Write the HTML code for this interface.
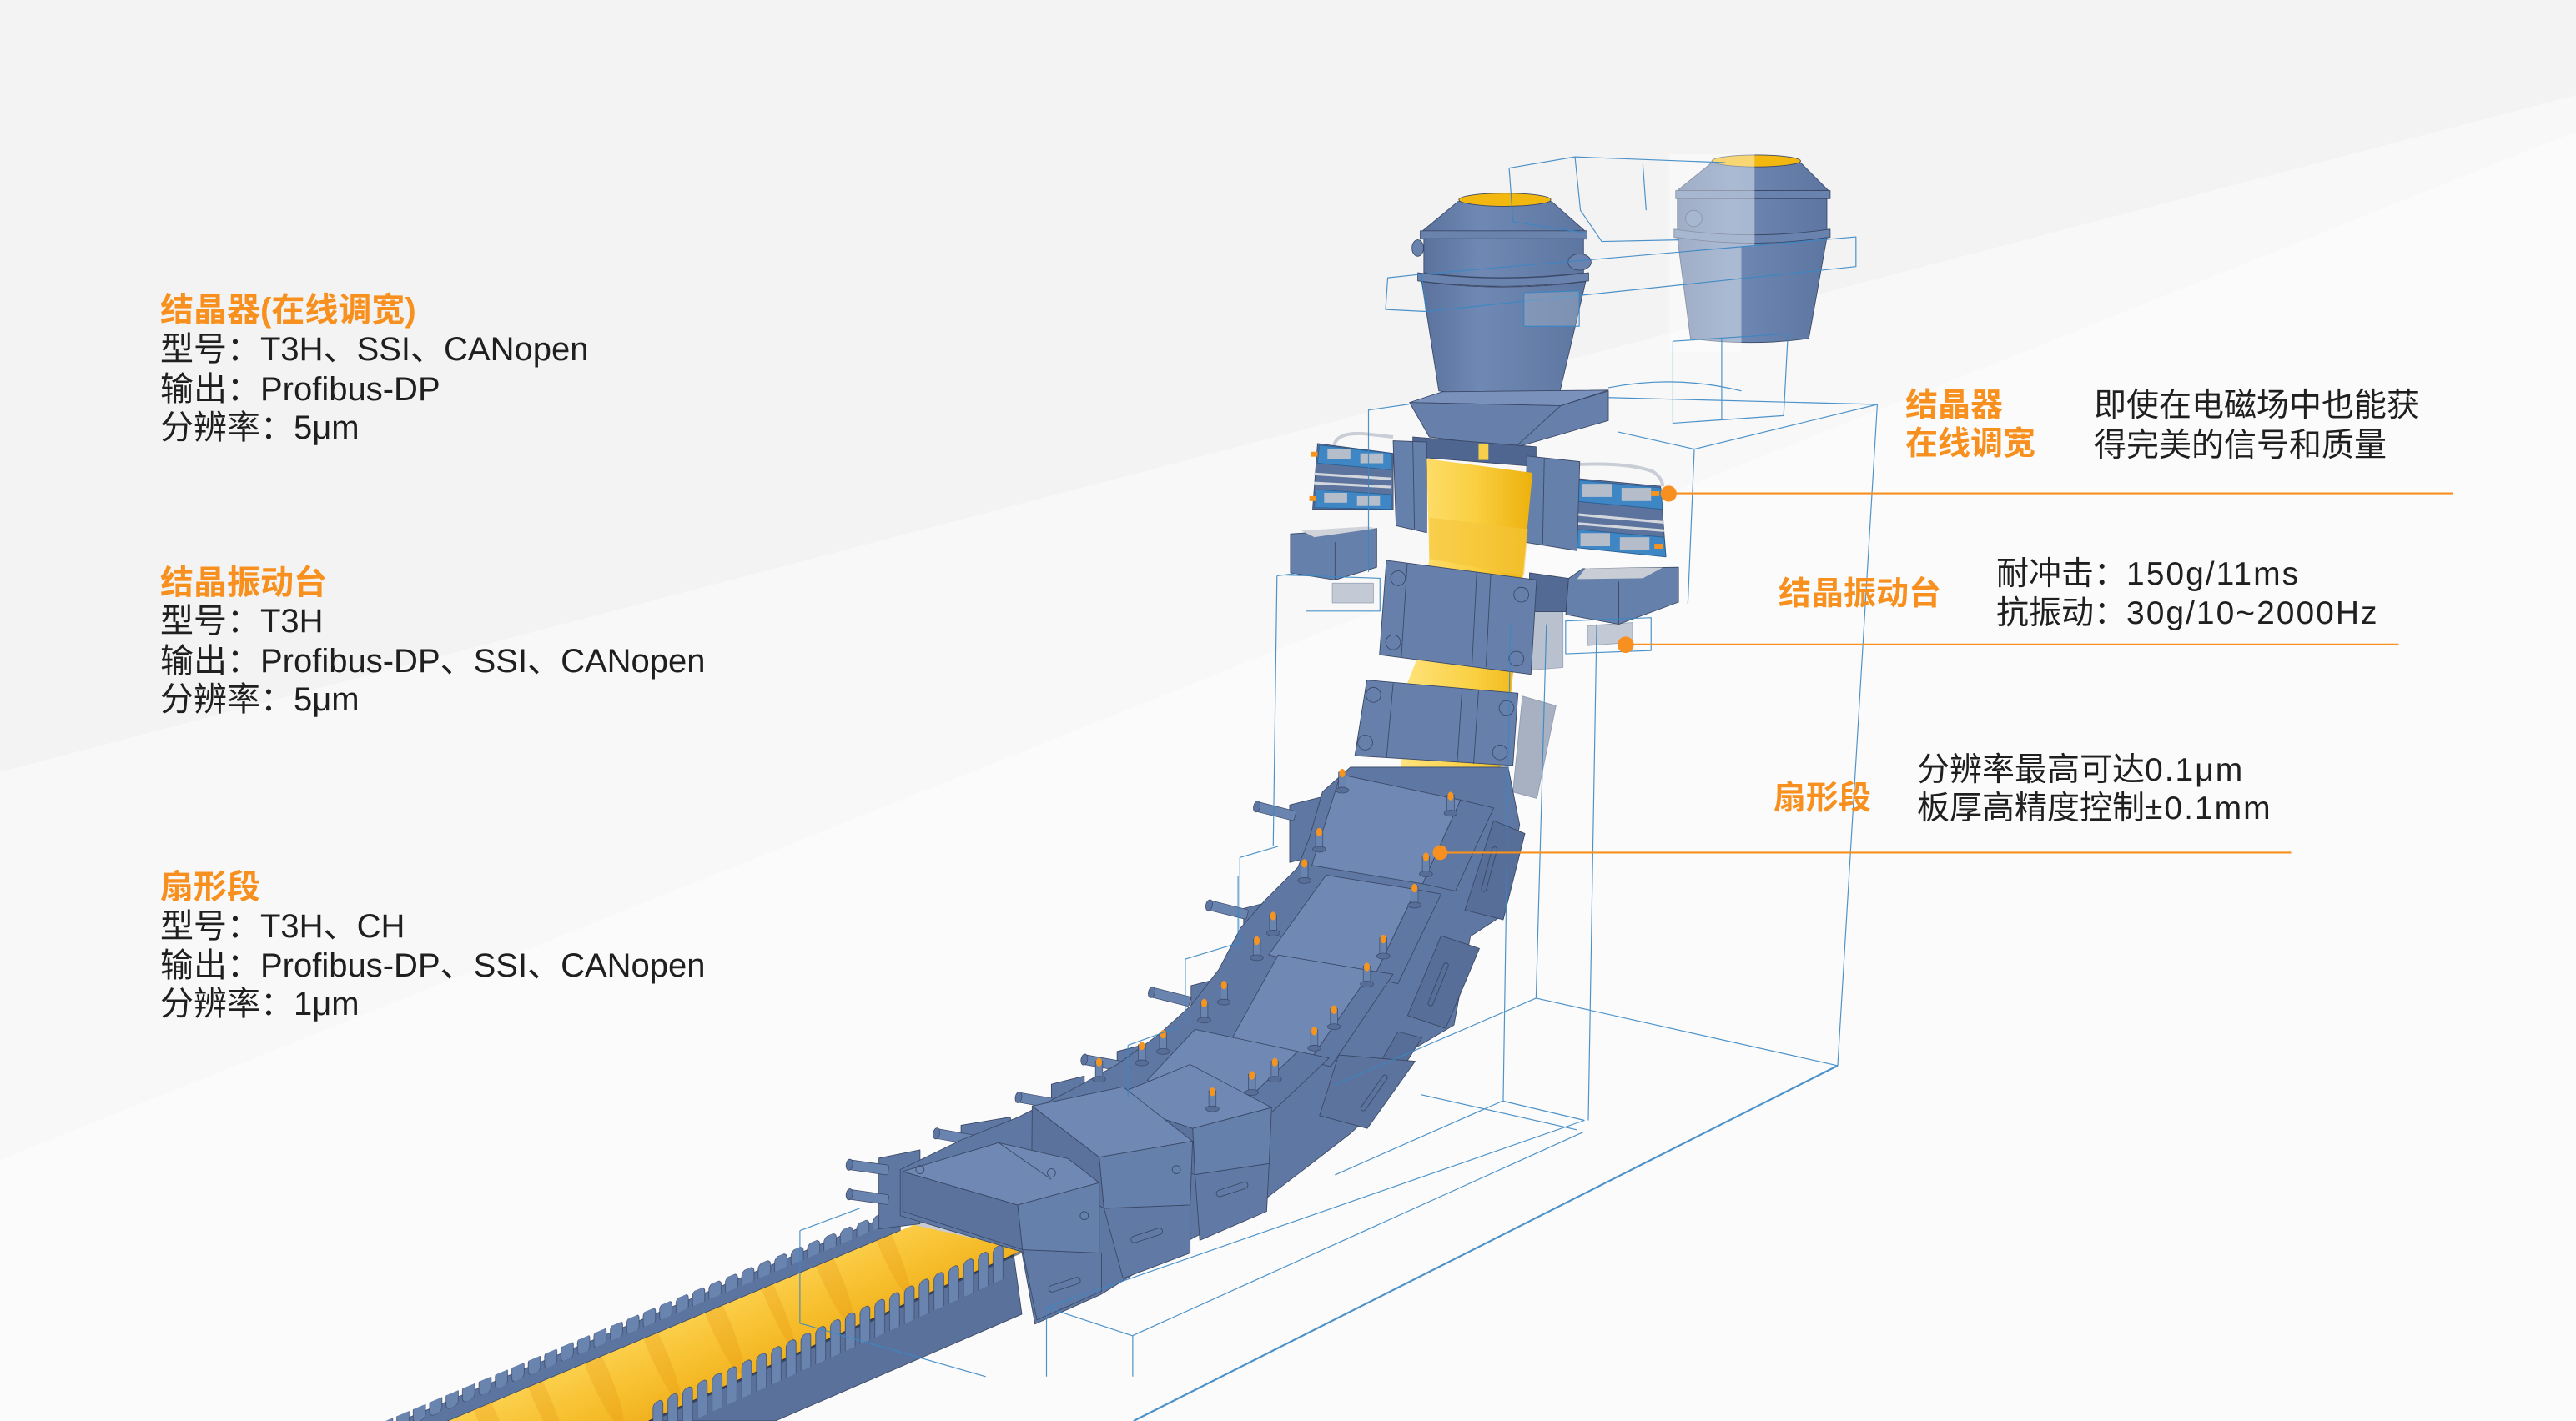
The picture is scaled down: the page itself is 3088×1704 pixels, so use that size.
<!DOCTYPE html>
<html><head><meta charset="utf-8">
<style>
html,body{margin:0;padding:0;}
body{width:3088px;height:1704px;position:relative;overflow:hidden;background:#fbfbfb;font-family:"Liberation Sans","Noto Sans CJK SC",sans-serif;}
.t{position:absolute;white-space:nowrap;font-size:39px;line-height:48px;height:48px;color:#1f1f1f;}
.l{font-size:40px;}
.o{color:#F7901E;font-weight:bold;}
.b{letter-spacing:2px;}
</style></head><body>
<svg style="position:absolute;left:0;top:0" width="3088" height="1704" viewBox="0 0 1568 865" preserveAspectRatio="none">
<defs>
<linearGradient id="yel" x1="0" y1="0" x2="1" y2="0"><stop offset="0" stop-color="#FFE47E"/><stop offset=".55" stop-color="#FAD043"/><stop offset="1" stop-color="#EDB10C"/></linearGradient>
<linearGradient id="slab" gradientUnits="userSpaceOnUse" x1="400" y1="790" x2="440" y2="880"><stop offset="0" stop-color="#FFD95E"/><stop offset=".5" stop-color="#F6BD2A"/><stop offset="1" stop-color="#E59A0E"/></linearGradient>
<linearGradient id="lad" x1="0" y1="0" x2="1" y2="0"><stop offset="0" stop-color="#5a729d"/><stop offset=".35" stop-color="#6f89b4"/><stop offset="1" stop-color="#5d76a1"/></linearGradient>
<pattern id="tl" patternUnits="userSpaceOnUse" width="9" height="40" y="1035.3" patternTransform="skewY(-24.5)"><rect x="1.5" y="0" width="6" height="24" rx="3" fill="#6A84B0" stroke="#3e4c6b" stroke-width=".4"/></pattern>
<pattern id="tu" patternUnits="userSpaceOnUse" width="10" height="40" y="958.8" patternTransform="skewY(-22.3)"><rect x="1.5" y="0" width="7.5" height="11" rx="3" fill="#6A84B0" stroke="#3e4c6b" stroke-width=".4"/></pattern>
<clipPath id="slabc"><polygon points="558,745 625,760 395,865 265,865"/></clipPath>
<g id="post"><rect x="-2.2" y="0" width="4.4" height="11" fill="#6A84B0" stroke="#3b4866" stroke-width=".35"/><ellipse cx="0" cy="11" rx="4" ry="1.8" fill="#566e98" stroke="#3b4866" stroke-width=".35"/><ellipse cx="0" cy="0.6" rx="1.8" ry="2.6" fill="#F7941D"/></g>
<g id="cyl"><rect x="0" y="-3" width="24" height="6" rx="1" fill="#6A84B0" stroke="#3b4866" stroke-width=".35"/><ellipse cx="0" cy="0" rx="2" ry="3.4" fill="#5d76a1" stroke="#3b4866" stroke-width=".35"/></g>
</defs>

<!-- background -->
<rect width="1568" height="865" fill="#fbfbfb"/>
<polygon points="0,0 1568,0 1568,58 0,470" fill="#f3f3f3"/>
<polygon points="0,470 1568,58 1568,80 0,706" fill="#f8f8f8"/>

<g stroke="#3b4866" stroke-width=".45" stroke-linejoin="round">
<!-- right ladle -->
<path d="M1042,99 L1096,99 L1113,116 L1021,116 Z" fill="url(#lad)"/>
<path d="M1020,116 L1114,116 L1114,121 L1020,121 Z" fill="#6983AE"/>
<path d="M1021,121 L1112,121 L1112,140 Q1066,147 1021,140 Z" fill="url(#lad)"/>
<path d="M1019,139.5 Q1066,146.5 1114,139.5 L1114,144.5 Q1066,151.5 1019,144.5 Z" fill="#6983AE"/>
<path d="M1021,144.5 Q1066,151.5 1112,144.5 L1101,206 Q1065,211 1029,206 Z" fill="url(#lad)"/>
<ellipse cx="1069" cy="98" rx="27" ry="3.6" fill="#F3B80F"/>
<ellipse cx="1031" cy="133" rx="5" ry="5" fill="#6983AE"/>
</g>
<polygon points="1016,94 1068,94 1068,150 1060,150 1060,214 1016,214" fill="#fff" opacity=".42"/>

<g stroke="#3b4866" stroke-width=".45" stroke-linejoin="round">
<!-- left ladle -->
<path d="M887.5,122.7 L944.5,122.7 L965.2,141 L865.4,141 Z" fill="url(#lad)"/>
<rect x="864.5" y="140.5" width="101.5" height="5" fill="#6983AE"/>
<path d="M866.7,145.3 L963.9,145.3 L963.9,166 Q915,172 866.7,166 Z" fill="url(#lad)"/>
<path d="M863,166 Q915,172.5 967,166 L967,171 Q915,177.5 863,171 Z" fill="#6983AE"/>
<path d="M865.4,171.4 Q915,178 965.2,171.4 L949.6,238 Q912,243 875.8,238 Z" fill="url(#lad)"/>
<ellipse cx="916" cy="121.6" rx="28" ry="4" fill="#F3B80F"/>
<ellipse cx="863" cy="151" rx="3.5" ry="5" fill="#6983AE"/>
<ellipse cx="961.5" cy="159.5" rx="7" ry="5" fill="#6983AE"/>
<!-- tundish base -->
<polygon points="858,245 878,238.5 979,237.5 950,247" fill="#7a92bb"/>
<polygon points="858,245 950,247 979,238 979,256 922,272.5 870,266" fill="#6680ab"/>
<line x1="950" y1="247" x2="922" y2="272.5"/>

<!-- mold back plate -->
<polygon points="860,266 935,272 935,284 860,278" fill="#4f6690"/>
<!-- left actuators -->
<path d="M812,271 Q814,263 830,264 L848,266" fill="none" stroke="#c9ced6" stroke-width="2"/>
<polygon points="802,270 848,276 848,310 799,310" fill="#5b739d"/>
<polygon points="803,271 847,276 847,286 802,282" fill="#3e86c4" stroke="#2b5f93"/>
<rect x="808" y="273.5" width="14" height="6" fill="#b4bdc9" stroke="none"/>
<rect x="828" y="276" width="14" height="6" fill="#b4bdc9" stroke="none"/>
<line x1="800" y1="288.5" x2="847" y2="291.5" stroke="#d3d7dd" stroke-width="1.6"/>
<line x1="800" y1="294" x2="847" y2="296.5" stroke="#d3d7dd" stroke-width="1.6"/>
<polygon points="801,298 847,301 847,310 800,309" fill="#3e86c4" stroke="#2b5f93"/>
<rect x="806" y="300" width="14" height="6" fill="#b4bdc9" stroke="none"/>
<rect x="826" y="302" width="14" height="6" fill="#b4bdc9" stroke="none"/>
<rect x="798" y="275" width="4" height="3" fill="#F7941D" stroke="none"/>
<rect x="797" y="302" width="4" height="3" fill="#F7941D" stroke="none"/>
<!-- right actuators -->
<path d="M955,283 Q990,281 1006,287 Q1012,291 1012,296" fill="none" stroke="#c9ced6" stroke-width="2"/>
<polygon points="956.5,291 1010.7,296 1014,338.5 954.8,332" fill="#5b739d"/>
<polygon points="958,292 1011,297 1012,310 958,305" fill="#3e86c4" stroke="#2b5f93"/>
<rect x="963" y="294.5" width="18" height="8" fill="#b4bdc9" stroke="none"/>
<rect x="987" y="297" width="18" height="8" fill="#b4bdc9" stroke="none"/>
<line x1="958" y1="313" x2="1013" y2="318" stroke="#d3d7dd" stroke-width="1.6"/>
<line x1="958" y1="318.5" x2="1013" y2="323" stroke="#d3d7dd" stroke-width="1.6"/>
<polygon points="957,322 1013,327 1014,339 956,333" fill="#3e86c4" stroke="#2b5f93"/>
<rect x="962" y="324.5" width="18" height="8" fill="#b4bdc9" stroke="none"/>
<rect x="986" y="327" width="18" height="8" fill="#b4bdc9" stroke="none"/>
<rect x="1005" y="299" width="5" height="3" fill="#F7941D" stroke="none"/>
<rect x="1007" y="331" width="5" height="3" fill="#F7941D" stroke="none"/>
<!-- frames -->
<polygon points="848,268.3 868.4,269.1 868.4,324.2 849.8,320" fill="#6580ab"/>
<line x1="860" y1="269" x2="861" y2="322"/>
<polygon points="929.4,277.6 961.6,281 959.9,335.2 928.5,330.1" fill="#6580ab"/>
<line x1="940" y1="279" x2="939" y2="332"/>
<!-- left/right small boxes -->
<polygon points="811,355 836,355 836,367 811,367" fill="#c3cad5" stroke="#9aa6b8"/>
<polygon points="785.5,325 838,321.6 838,345.3 812.6,353 785.5,348.7" fill="#6580ab"/>
<polygon points="792,323 832,320.5 838,321.6 800,327" fill="#d0d4da" stroke="none"/>
<line x1="812.6" y1="330" x2="812.6" y2="353"/>
<polygon points="927.7,372.4 951.4,372.4 951.4,406.3 931,408" fill="#b9c1ce" stroke="#9aa6b8"/>
<polygon points="966.6,380.9 993.7,379 993.7,391 966.6,393" fill="#c3cad5" stroke="#9aa6b8"/>
<polygon points="931,348.7 954.8,352.1 953.1,372.4 931,372.4" fill="#526a94"/>
<polygon points="954.8,352.1 963.3,346.2 1021.7,345.3 1021.7,366.5 985.3,380 953.1,374.1" fill="#6580ab"/>
<polygon points="965,346 1012,345.5 1000,352 960,352.5" fill="#c9ced6" stroke="none"/>
<line x1="985.3" y1="354" x2="985.3" y2="380"/>
<!-- yellow strand -->
<polygon points="868.4,279.3 932.8,287.8 927,350 920,420 912,478 900,495 852,490 855,420 863,400 870,340" fill="url(#yel)" stroke="none"/>
<polygon points="870,315 930,322 927.7,350.4 870,340.2" fill="#F5C43A" stroke="none" opacity=".6"/>
<rect x="900" y="270" width="6" height="10" fill="#F7CF4A" stroke="none"/>
<!-- mold lower box -->
<polygon points="843.9,341.1 935.3,353 931.9,410.5 839.7,398.6" fill="#6680ab"/>
<line x1="856.6" y1="343" x2="853" y2="400"/>
<line x1="898.9" y1="348" x2="896" y2="405"/>
<line x1="907.4" y1="349.5" x2="904.5" y2="406"/>
<g fill="none"><circle cx="851" cy="352" r="4.5"/><circle cx="926" cy="362" r="4.5"/><circle cx="848" cy="391" r="4.5"/><circle cx="923" cy="401" r="4.5"/></g>
<!-- seg0 -->
<polygon points="832,414 924,422 920.9,466 824.7,460" fill="#6680ab"/>
<line x1="848" y1="416" x2="844" y2="461"/>
<line x1="890" y1="419" x2="887" y2="464"/>
<line x1="900" y1="420" x2="897" y2="465"/>
<g fill="none"><circle cx="836" cy="423" r="4.5"/><circle cx="917" cy="431" r="4.5"/><circle cx="831" cy="452" r="4.5"/><circle cx="913" cy="458" r="4.5"/></g>
<polygon points="926.7,423.8 947.1,429.6 935.5,486 920.9,482.1" fill="#a8b1c2" stroke="#8f9bb0"/>
</g>

<!-- slab and combs -->
<polygon points="558,745 625,760 395,865 265,865" fill="url(#slab)"/>
<g clip-path="url(#slabc)" fill="#E08A0A" opacity=".22">
<ellipse cx="540" cy="758" rx="5" ry="34" transform="rotate(-23.5 540 758)"/>
<ellipse cx="505" cy="775" rx="6" ry="34" transform="rotate(-23.5 505 775)"/>
<ellipse cx="470" cy="790" rx="4" ry="34" transform="rotate(-23.5 470 790)"/>
<ellipse cx="438" cy="805" rx="6" ry="34" transform="rotate(-23.5 438 805)"/>
<ellipse cx="400" cy="822" rx="5" ry="34" transform="rotate(-23.5 400 822)"/>
<ellipse cx="365" cy="837" rx="6" ry="34" transform="rotate(-23.5 365 837)"/>
<ellipse cx="330" cy="852" rx="5" ry="34" transform="rotate(-23.5 330 852)"/>
<ellipse cx="298" cy="866" rx="6" ry="34" transform="rotate(-23.5 298 866)"/>
</g>
<polygon points="556,741 624,756.5 625,761 558,746" fill="#c8ccd2"/>
<!-- upper comb -->
<polygon points="548,737 548,749 200,895.5 200,883.5" fill="#5c74a0" stroke="#3b4866" stroke-width=".4"/>
<polygon points="548,733 548,742 200,888.6 200,879.6" fill="url(#tu)"/>
<!-- lower comb -->
<polygon points="617,763.7 395,865 472,865 622,800" fill="#5a719b" stroke="#3b4866" stroke-width=".45"/>
<line x1="625" y1="760.5" x2="395" y2="865.5" stroke="#1f2430" stroke-width="1.6" opacity=".55"/>
<polygon points="612,755.9 612,777.9 395,877 395,855" fill="url(#tl)"/>

<g stroke="#3b4866" stroke-width=".45" stroke-linejoin="round">
<!-- ears and cylinders -->
<polygon points="535,705 560,700 560,745 535,748" fill="#5f78a3"/>
<polygon points="585,685 615,680 618,715 585,715" fill="#5f78a3"/>
<polygon points="640,660 660,655 660,690 640,695" fill="#5f78a3"/>
<polygon points="680,640 700,635 700,665 680,668" fill="#5f78a3"/>
<polygon points="725,600 745,595 745,630 725,635" fill="#5f78a3"/>
<polygon points="757,553 777,548 777,580 757,585" fill="#5f78a3"/>
<polygon points="785,490 805,485 805,520 785,525" fill="#5f78a3"/>
</g>
<use href="#cyl" transform="translate(517,709) rotate(8)"/>
<use href="#cyl" transform="translate(517,727) rotate(8)"/>
<use href="#cyl" transform="translate(570,690) rotate(10)"/>
<use href="#cyl" transform="translate(620,668) rotate(10)"/>
<use href="#cyl" transform="translate(660,645) rotate(10)"/>
<use href="#cyl" transform="translate(701,604) rotate(14)"/>
<use href="#cyl" transform="translate(736,551) rotate(14)"/>
<use href="#cyl" transform="translate(765,491) rotate(14)"/>

<g stroke="#3b4866" stroke-width=".45" stroke-linejoin="round">
<!-- chain underlay -->
<polygon points="822,467 805,482 797,510 790,528 770,548 755,565 742,590 725,612 705,630 680,648 655,662 620,680 585,694 548,712 548,740 622,762 630,806 670,788 720,757 770,730 800,707 822,690 845,668 858,640 885,624 895,570 915,557 925,502 918,467" fill="#5f78a3"/>
<!-- right side blocks -->
<polygon points="909.2,499.6 928.2,507.4 915,559.9 891.7,554" fill="#566e98"/>
<rect x="905" y="515" width="3" height="28" rx="1.5" fill="none" transform="rotate(15 906 529)"/>
<polygon points="877.2,569.6 900.5,577.4 880,626 856.8,618.2" fill="#566e98"/>
<rect x="874" y="585" width="3" height="28" rx="1.5" fill="none" transform="rotate(22 875 599)"/>
<polygon points="851,628 865.5,631.8 833.4,682.3 821.8,678.5" fill="#566e98"/>
<polygon points="814.8,642.2 861.4,646 832.3,686.9 803.2,679.1" fill="#5b739d"/>
<rect x="835" y="652" width="3" height="26" rx="1.5" fill="none" transform="rotate(35 836 665)"/>
<!-- seg1 -->
<polygon points="816,471.4 889,487 866,538 798.5,526.8" fill="#7089b4"/>
<polygon points="889,487 909.2,491.8 885.9,542.4 866,538" fill="#5f78a3"/>
<!-- seg2 -->
<polygon points="807.2,532.7 862,541.5 836,595.5 772.2,581.3" fill="#7089b4"/>
<polygon points="862,541.5 877.2,544.3 850.9,598.8 836,595.5" fill="#5f78a3"/>
<!-- seg3 -->
<polygon points="778,581.3 835,591 797,646 748.9,633.8" fill="#7089b4"/>
<polygon points="835,591 848,593 810,649.3 797,646" fill="#5f78a3"/>
<!-- seg4 -->
<polygon points="727.4,626.6 790,640 756,672.5 698.2,657.7" fill="#7089b4"/>
<polygon points="790,640 809,644.1 774,677.2 756,672.5" fill="#5f78a3"/>
<!-- seg5 -->
<polygon points="672,669.4 726,686.9 727.4,715 672,700" fill="#5a729c"/>
<polygon points="727.4,715 772.5,708.3 771,737.4 730.3,755" fill="#617aa5"/>
<polygon points="672,669.4 724.4,648 774,674.2 726,686.9" fill="#7089b4"/>
<polygon points="726,686.9 774,674.2 772.5,708.3 727.4,715" fill="#6580ab"/>
<rect x="740" y="722" width="20" height="4" rx="2" fill="none" transform="rotate(-18 750 724)"/>
<!-- seg6 -->
<polygon points="628.3,673.3 669.1,704.4 672,735.5 628,712" fill="#5a729c"/>
<polygon points="672,735.5 724.4,733.5 724.4,762.7 683.6,778.2" fill="#617aa5"/>
<polygon points="628.3,673.3 683.6,661.6 725.9,694.7 669.1,704.4" fill="#7089b4"/>
<polygon points="669.1,704.4 725.9,694.7 724.4,733.5 672,735.5" fill="#6580ab"/>
<rect x="688" y="750" width="20" height="4" rx="2" fill="none" transform="rotate(-18 698 752)"/>
<circle cx="716" cy="712" r="2.5" fill="none"/>
<!-- seg7 -->
<polygon points="549.5,713.1 619.5,733.5 622.4,760.7 549.5,737.4" fill="#5a729c"/>
<polygon points="622.4,760.7 670.5,762.7 670.5,786 631.2,803.5" fill="#617aa5"/>
<polygon points="549.5,713.1 607.8,695.6 650.1,705.3 669.1,720 619.5,733.5" fill="#7089b4"/>
<line x1="607.8" y1="695.6" x2="640" y2="718"/>
<polygon points="619.5,733.5 669.1,720 669.1,762.7 622.4,760.7" fill="#6580ab"/>
<rect x="638" y="780" width="20" height="4" rx="2" fill="none" transform="rotate(-18 648 782)"/>
<circle cx="660" cy="740" r="2.5" fill="none"/>
<circle cx="560" cy="712" r="2.5" fill="none"/>
<circle cx="640" cy="714" r="2.5" fill="none"/>
</g>

<!-- posts -->
<use href="#post" x="817" y="470"/><use href="#post" x="883" y="484"/><use href="#post" x="803" y="506"/>
<use href="#post" x="794" y="525"/><use href="#post" x="868" y="521"/><use href="#post" x="861" y="540"/>
<use href="#post" x="775" y="557"/><use href="#post" x="765" y="572"/><use href="#post" x="842" y="571"/>
<use href="#post" x="832" y="588"/><use href="#post" x="745" y="599"/><use href="#post" x="733" y="610"/>
<use href="#post" x="669" y="646"/><use href="#post" x="695" y="636"/><use href="#post" x="708" y="629"/>
<use href="#post" x="812" y="614"/><use href="#post" x="800" y="627"/><use href="#post" x="776" y="646"/>
<use href="#post" x="762" y="654"/><use href="#post" x="738" y="664"/>

<!-- wireframe -->
<g fill="none" stroke="#3a87c4" stroke-width=".6" stroke-linejoin="round" opacity=".9">
<path d="M844.7,169.1 L865.4,166.9 L1129.7,144.2 L1129.7,162.3 L868,189.6 L843.4,188.4 Z M865.4,166.9 L868,189.6"/>
<polygon points="927.6,178.2 961.3,177.1 961.3,198.6 927.6,198.6" fill="#c0c8d4" fill-opacity=".35"/>
<path d="M918.6,102.3 L958.7,95.5 L1050,99 M918.6,102.3 L921,135 L966,142 M958.7,95.5 L962,128 L975,147 L1022,146 M1000,100 L1002,128"/>
<polygon points="1018.3,207.7 1088.3,203.2 1085.7,253 1018.3,257.6"/>
<path d="M1048,206 L1048,255"/>
<path d="M833,348.2 L833,249.6 L858,246 M979,242 L1142.7,246.2 L1118.6,648.7 M1142.7,246.2 L1031.3,273.4 L1027.4,367.5 M1031.3,273.4 L985,263 M979,236 Q1020,228 1060,238"/>
<path d="M777.3,350.5 L775,515 M777.3,350.5 L790,349 M782,350 L840,352 L840,372 L795,372"/>
<polygon points="953,378 1005,376 1005,396 953,398"/>
<path d="M919.4,380 L915,670 M941.3,380 L935,607.6 M971.9,380 L966.8,682"/>
<path d="M1118.6,648.7 L690,865" stroke-width="1.1"/>
<path d="M935,607.6 L1118.6,648.7 M935,607.6 L812.6,660.4 M914.6,670.2 L812.6,715.2 M914.6,670.2 L964.5,682 M964.5,682 L637,796 M964,689 L689.5,813 M864.7,666.3 L960,687.8"/>
<path d="M486.9,749.1 L523.3,735.5 M486.9,749.1 L486.9,805.5 L600,838 M637,795.8 L689.5,813.2 L689.5,838 M637,795.8 L637,838 M686.6,636.3 L718.6,624.7 M686.6,636.3 L686.6,668 M721.5,583.8 L756.5,573.2 M721.5,583.8 L721.5,622.7 M754.7,522 L778,515.2 M754.7,522 L754.7,581.3 M753.6,533.3 L753.6,572.2"/>
</g>

<!-- orange leader lines -->
<g fill="#F7901E" stroke="#F7901E">
<line x1="1015.7" y1="300.3" x2="1493" y2="300.3" stroke-width="1.1"/>
<circle cx="1015.7" cy="300.5" r="4.9" stroke="none"/>
<line x1="989.5" y1="392.3" x2="1460" y2="392.3" stroke-width="1.1"/>
<circle cx="989.5" cy="392.5" r="5" stroke="none"/>
<line x1="876.6" y1="519" x2="1394.6" y2="519" stroke-width="1.1"/>
<circle cx="876.6" cy="519" r="4.5" stroke="none"/>
</g>
</svg>

<div class="t l o" style="left:192px;top:348px">结晶器(在线调宽)</div>
<div class="t l" style="left:192px;top:395px">型号：T3H、SSI、CANopen</div>
<div class="t l" style="left:192px;top:443px">输出：Profibus-DP</div>
<div class="t l" style="left:192px;top:489px">分辨率：5μm</div>

<div class="t l o" style="left:192px;top:675px">结晶振动台</div>
<div class="t l" style="left:192px;top:721px">型号：T3H</div>
<div class="t l" style="left:192px;top:769px">输出：Profibus-DP、SSI、CANopen</div>
<div class="t l" style="left:192px;top:815px">分辨率：5μm</div>

<div class="t l o" style="left:192px;top:1040px">扇形段</div>
<div class="t l" style="left:192px;top:1087px">型号：T3H、CH</div>
<div class="t l" style="left:192px;top:1134px">输出：Profibus-DP、SSI、CANopen</div>
<div class="t l" style="left:192px;top:1180px">分辨率：1μm</div>

<div class="t o" style="left:2284px;top:463px">结晶器</div>
<div class="t o" style="left:2284px;top:509px">在线调宽</div>
<div class="t" style="left:2510px;top:463px">即使在电磁场中也能获</div>
<div class="t" style="left:2510px;top:511px">得完美的信号和质量</div>

<div class="t o" style="left:2132px;top:689px">结晶振动台</div>
<div class="t" style="left:2393px;top:665px">耐冲击：<span class="b">150g/11ms</span></div>
<div class="t" style="left:2393px;top:712px">抗振动：<span class="b">30g/10~2000Hz</span></div>

<div class="t o" style="left:2126px;top:934px">扇形段</div>
<div class="t" style="left:2298px;top:900px">分辨率最高可达<span class="b">0.1μm</span></div>
<div class="t" style="left:2298px;top:946px">板厚高精度控制<span class="b">±0.1mm</span></div>
</body></html>
